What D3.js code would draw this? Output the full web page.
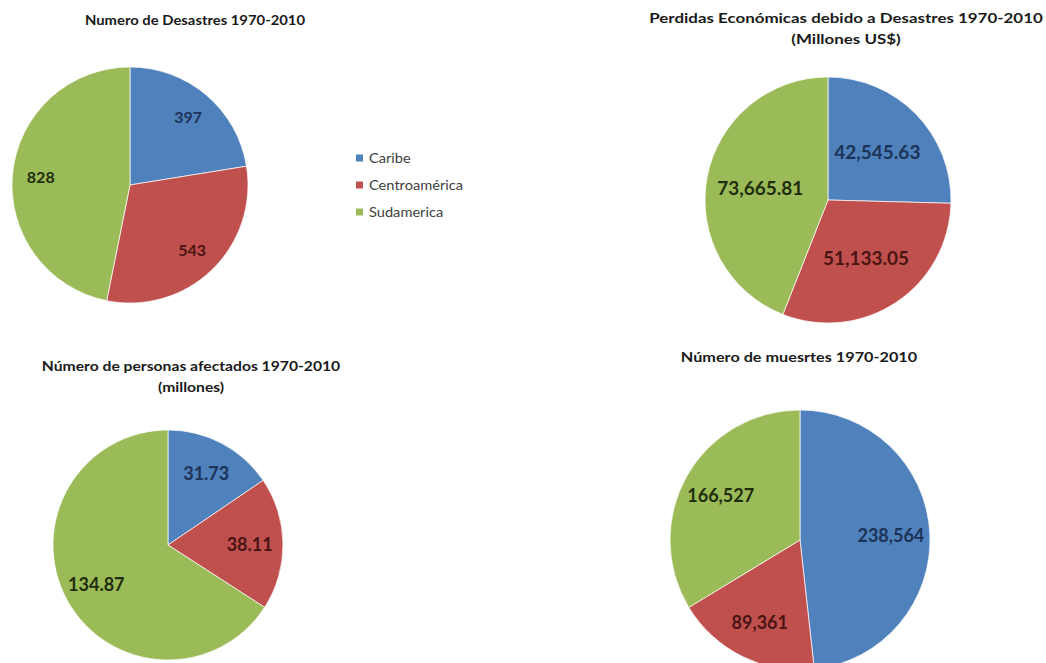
<!DOCTYPE html>
<html><head><meta charset="utf-8">
<script src="https://cdn.jsdelivr.net/npm/d3@7"></script>
<style>body{margin:0;background:#fff}svg{display:block}</style>
</head><body>
<svg id="c" width="1046" height="663"></svg>
<script>
const categories = ["Caribe", "Centroamérica", "Sudamerica"];
const desastres = [397, 543, 828];
const perdidas = [42545.63, 51133.05, 73665.81];
const afectados = [31.73, 38.11, 134.87];
const muertes = [238564, 89361, 166527];
const titleDesastres = ["Numero de Desastres 1970-2010"];
const titlePerdidas = ["Perdidas Económicas debido a Desastres 1970-2010", "(Millones US$)"];
const titleAfectados = ["Número de personas afectados 1970-2010", "(millones)"];
const titleMuertes = ["Número de muesrtes 1970-2010"];

const colors = ["#4F81BD", "#C0504D", "#9BBB59"];
const labelColors = ["#1d3357", "#4a1414", "#1f2e0c"];
const FONT = "Lato, 'Open Sans', sans-serif";

const charts = [
  {values: desastres, fmt: d3.format("d"), title: titleDesastres, cx: 130, cy: 185, r: 118, tx: 195, ty: 20, tsize: 14, sx: 1.06, lsize: 16, k: 0.76},
  {values: perdidas, fmt: d3.format(",.2f"), title: titlePerdidas, cx: 828, cy: 200, r: 123, tx: 846, ty: 18, tsize: 14, sx: 1.21, lsize: 19, k: 0.56},
  {values: afectados, fmt: d3.format(".2f"), title: titleAfectados, cx: 168, cy: 545, r: 115, tx: 191, ty: 365, tsize: 14, sx: 1.12, lsize: 18, k: 0.71},
  {values: muertes, fmt: d3.format(",d"), title: titleMuertes, cx: 800, cy: 540, r: 130, tx: 799, ty: 356, tsize: 14, sx: 1.16, lsize: 18, k: 0.7}
];

const svg = d3.select("#c");
const color = d3.scaleOrdinal().domain(categories).range(colors);
const lcolor = d3.scaleOrdinal().domain(categories).range(labelColors);
const pie = d3.pie().sort(null).value(d => d.v);

charts.forEach(ch => {
  const data = categories.map((c, i) => ({c, v: ch.values[i]}));
  const arcs = pie(data);
  const g = svg.append("g").attr("transform", `translate(${ch.cx},${ch.cy})`);
  const arc = d3.arc().innerRadius(0).outerRadius(ch.r);
  g.selectAll("path").data(arcs).join("path")
    .attr("d", arc).attr("fill", d => color(d.data.c))
    .attr("stroke", "#fff").attr("stroke-width", 0.7);
  const larc = d3.arc().innerRadius(ch.r * ch.k).outerRadius(ch.r * ch.k);
  g.selectAll("text.lbl").data(arcs).join("text")
    .attr("class", "lbl")
    .attr("transform", d => `translate(${larc.centroid(d)})`)
    .attr("text-anchor", "middle").attr("dominant-baseline", "central")
    .attr("font-family", FONT).attr("font-weight", "bold")
    .attr("font-size", ch.lsize).attr("fill", d => lcolor(d.data.c))
    .text(d => ch.fmt(d.data.v));
  const tg = svg.append("g").attr("transform", `translate(${ch.tx},${ch.ty}) scale(${ch.sx},1)`);
  tg.selectAll("text").data(ch.title).join("text")
    .attr("x", 0).attr("y", (d, i) => i * ch.tsize * 1.5)
    .attr("text-anchor", "middle").attr("dominant-baseline", "central")
    .attr("font-family", FONT).attr("font-weight", "bold")
    .attr("font-size", ch.tsize).attr("fill", "#1a1a1a")
    .text(d => d);
});

// legend
const legend = svg.append("g").attr("transform", "translate(356,158)");
const li = legend.selectAll("g").data(categories).join("g")
  .attr("transform", (d, i) => `translate(0,${i * 27})`);
li.append("rect").attr("x", 0).attr("y", -3.5).attr("width", 7).attr("height", 7).attr("fill", d => color(d));
li.append("text").attr("transform", "translate(13,0) scale(1.17,1)").attr("dominant-baseline", "central")
  .attr("font-family", FONT).attr("font-size", 12.5).attr("fill", "#404040").text(d => d);
</script>
</body></html>
